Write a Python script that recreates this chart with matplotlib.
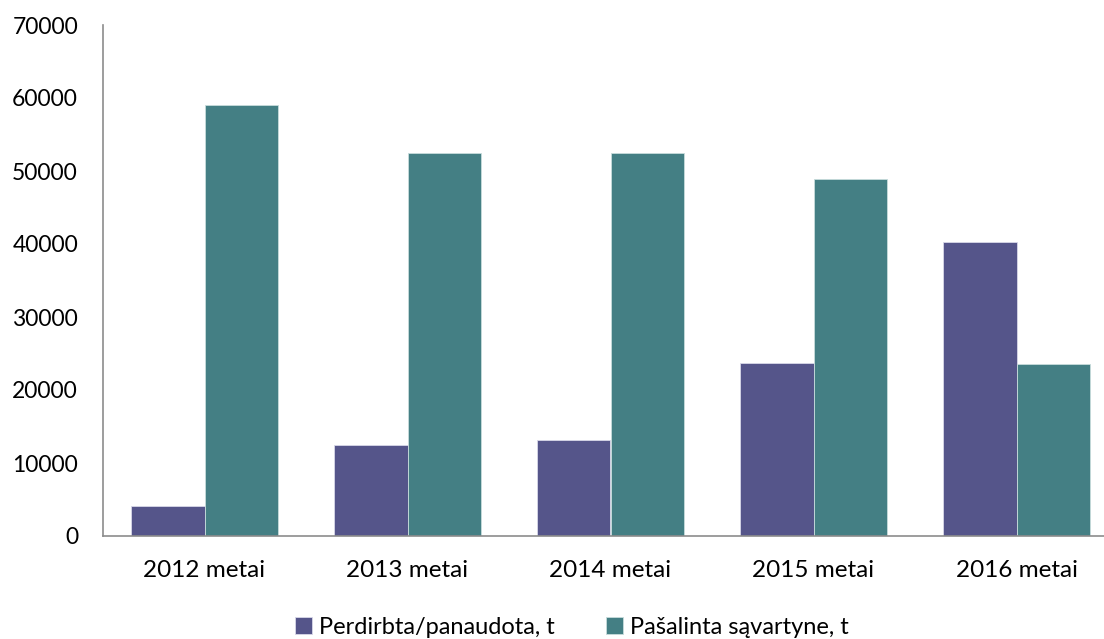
import numpy as np
import matplotlib.pyplot as plt

plt.rcParams['font.family'] = ['Lato', 'DejaVu Sans']

years = ['2012 metai', '2013 metai', '2014 metai', '2015 metai', '2016 metai']
perdirbta = [4100, 12450, 13150, 23700, 40300]
pasalinta = [59050, 52400, 52400, 48850, 23550]

c_purple = '#55558a'
c_teal = '#447f84'

fig = plt.figure(figsize=(11.04, 6.39), dpi=100)
ax = fig.add_axes([103 / 1104, 1 - 536 / 639, 1015 / 1104, 511 / 639])

x = np.arange(len(years))
w = 0.362
ax.bar(x - w / 2, perdirbta, w, color=c_purple, edgecolor='#d8d8e8', linewidth=0.6,
       label='Perdirbta/panaudota, t')
ax.bar(x + w / 2, pasalinta, w, color=c_teal, edgecolor='#c8dcdc', linewidth=0.6,
       label='Pašalinta sąvartyne, t')

ax.set_xlim(-0.5, 4.5)
ax.set_ylim(0, 70000)
ax.set_yticks(range(0, 70001, 10000))
ax.set_xticks(x)
ax.set_xticklabels(years)
ax.tick_params(axis='both', length=0, colors='black')
ax.tick_params(axis='y', labelsize=16.5, pad=18)
ax.tick_params(axis='x', labelsize=17.5, pad=17)
for s in ['top', 'right']:
    ax.spines[s].set_visible(False)
for s in ['left', 'bottom']:
    ax.spines[s].set_color('#8c8c8c')
    ax.spines[s].set_linewidth(1.2)

fig.legend(loc='center', bbox_to_anchor=(572 / 1104, 1 - 627 / 639), ncol=2,
           frameon=False, fontsize=17, handlelength=0.7, handleheight=0.7,
           handletextpad=0.3, columnspacing=2.2)

fig.savefig('out.png', dpi=100)
